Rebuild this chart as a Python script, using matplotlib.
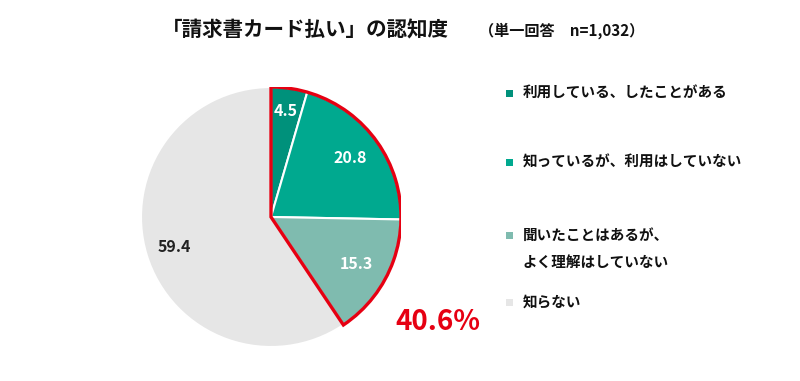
import numpy as np
import matplotlib.pyplot as plt
from matplotlib.patches import Wedge

plt.rcParams['font.family'] = ['Noto Sans CJK JP', 'DejaVu Sans']

# データ
labels = ['利用している、したことがある', '知っているが、利用はしていない',
          '聞いたことはあるが、\nよく理解はしていない', '知らない']
values = [4.5, 20.8, 15.3, 59.4]
colors = ['#00917B', '#00A98F', '#7FBBAF', '#E6E6E6']
text_colors = ['white', 'white', 'white', '#222222']
label_dist = [0.82, 0.76, 0.75, 0.78]
aware_total = sum(values[:3])

fig = plt.figure(figsize=(8, 3.81), dpi=100)

# 円グラフ
ax = fig.add_axes([141 / 800, 34 / 381, 260 / 800, 260 / 381])
wedges, _ = ax.pie(values, colors=colors, startangle=90, counterclock=False,
                   radius=1.0, wedgeprops=dict(edgecolor='white', linewidth=1.5))
ax.set_xlim(-1, 1)
ax.set_ylim(-1, 1)
ax.set_aspect('equal')
ax.axis('off')

# 数値ラベル
start = 90.0
for v, d, tc in zip(values, label_dist, text_colors):
    mid = np.deg2rad(start - v * 3.6 / 2)
    ax.text(d * np.cos(mid), d * np.sin(mid), f'{v}', ha='center', va='center',
            fontsize=11.5, fontweight='bold', color=tc)
    start -= v * 3.6

# 認知している部分の赤枠
ax.add_patch(Wedge((0, 0), 1.0, 90 - aware_total * 3.6, 90, fill=False,
                   edgecolor='#E60012', linewidth=2.4, zorder=5))

# タイトル
fig.text(162 / 800, 1 - 30 / 381, '「請求書カード払い」の認知度', fontsize=14.8,
         fontweight='bold', ha='left', va='center', color='#111111')
fig.text(479 / 800, 1 - 31 / 381, '（単一回答　n=1,032）', fontsize=10.9,
         fontweight='bold', ha='left', va='center', color='#111111')

# 凡例
legend_y = [93, 162, 235, 302]
for lab, c, y in zip(labels, colors, legend_y):
    fig.patches.append(plt.Rectangle((506 / 800, 1 - (y + 4) / 381), 7 / 800, 7 / 381,
                                     transform=fig.transFigure, facecolor=c,
                                     edgecolor='none'))
    for i, line in enumerate(lab.split('\n')):
        fig.text(523 / 800, 1 - (y + 27 * i) / 381, line, fontsize=10.5,
                 fontweight='bold', ha='left', va='center', color='#111111')

# 合計
fig.text(438 / 800, 1 - 322 / 381, f'{aware_total:.1f}%', fontsize=20,
         fontweight='bold', ha='center', va='center', color='#E60012')

fig.savefig('out.png', dpi=100)
